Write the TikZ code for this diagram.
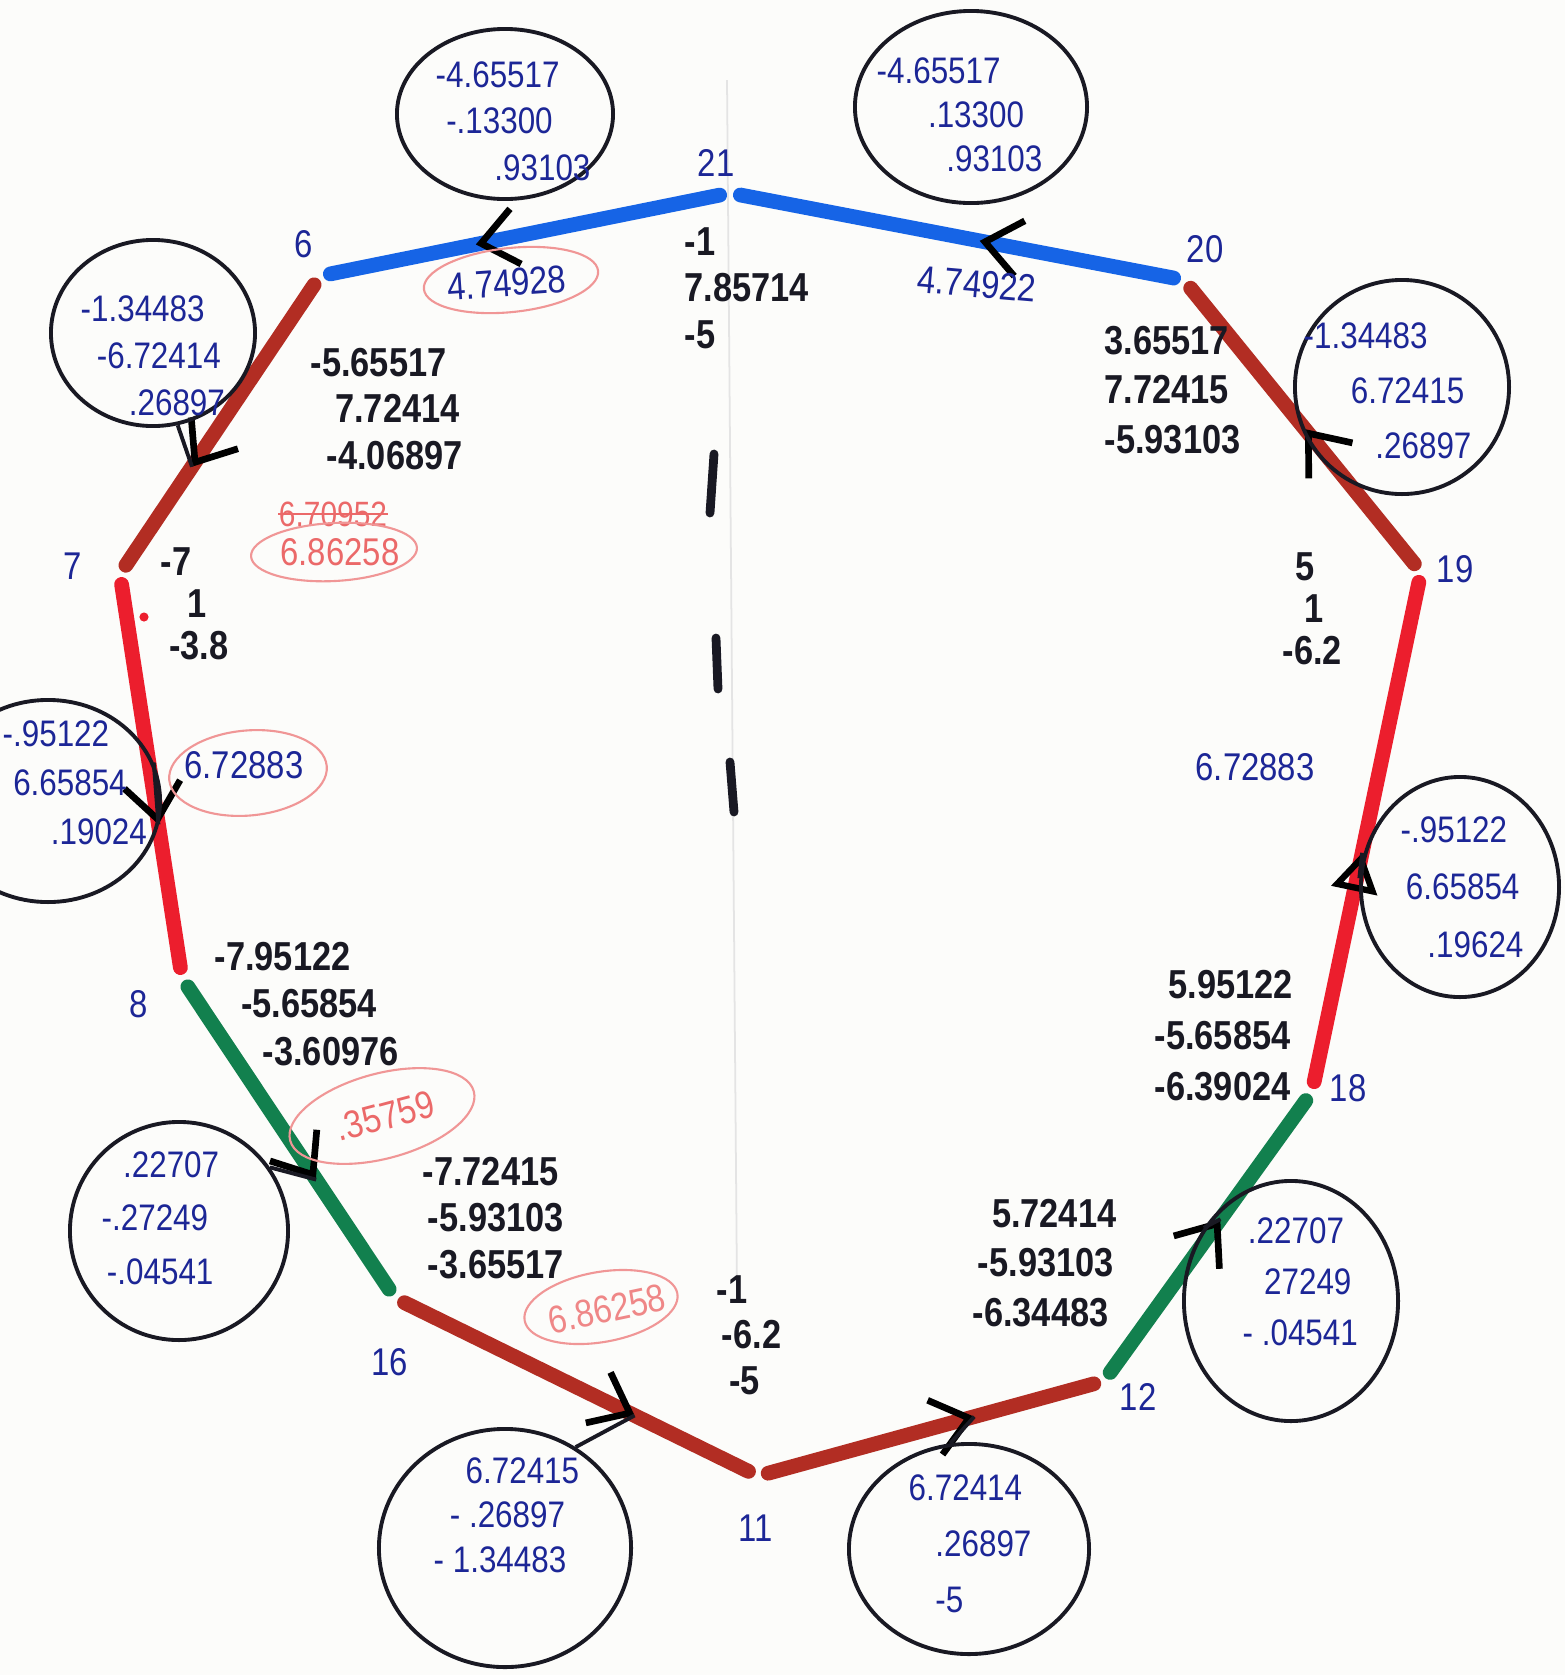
\documentclass[tikz,border=0pt]{standalone}
\usepackage{fontspec}
\setmainfont{Liberation Sans}[FakeStretch=0.85]
\usetikzlibrary{arrows.meta,decorations.markings,shapes.geometric,calc}
\definecolor{inkblue}{RGB}{28,38,150}
\definecolor{inkblack}{RGB}{25,25,35}
\definecolor{edgeblue}{RGB}{22,100,230}
\definecolor{edgebrown}{RGB}{178,45,35}
\definecolor{edgered}{RGB}{236,30,45}
\definecolor{edgegreen}{RGB}{18,128,78}
\definecolor{pinkline}{RGB}{240,150,150}
\definecolor{pinktext}{RGB}{235,105,105}
\definecolor{paper}{RGB}{252,252,250}
\definecolor{pencil}{RGB}{228,228,228}
\tikzset{
  bnum/.style={inner sep=0pt, align=left, text=inkblack, font=\fontsize{11.5}{#1}\selectfont\bfseries},
  unum/.style={inner sep=0pt, align=left, text=inkblue, font=\fontsize{10.5}{#1}\selectfont},
  vlab/.style={inner sep=0pt, text=inkblue, font=\fontsize{11}{13}\selectfont},
  elab/.style={inner sep=0pt, font=\fontsize{11}{13}\selectfont},
  seg/.style={line width=4.2pt, line cap=round, shorten <=3pt, shorten >=3pt},
  chev/.style={postaction={decorate, decoration={markings, mark=at position #1 with {\arrow{Straight Barb[color=black,length=10pt,width=16pt,line width=1.9pt]}}}}},
  tri/.style={postaction={decorate, decoration={markings, mark=at position #1 with {\arrow{Triangle[open,color=black,length=11pt,width=13pt,line width=1.8pt]}}}}},
  ring/.style={draw=inkblack, line width=1.1pt, ellipse, inner sep=0pt},
  pinkring/.style={draw=pinkline, line width=0.6pt, ellipse, inner sep=0pt},
  tail/.style={draw=inkblack, line width=1.1pt},
}
\begin{document}
\begin{tikzpicture}[x=0.01cm,y=-0.01cm]
\useasboundingbox (0,0) rectangle (1565,1675);
\fill[paper] (0,0) rectangle (1565,1675);
% faint pencil axis
\draw[pencil, line width=0.5pt] (727,80) -- (737,1290);

% vertices
\coordinate (v21) at (730,193);
\coordinate (v6) at (320,276);
\coordinate (v20) at (1184,280);
\coordinate (v7) at (120,574);
\coordinate (v19) at (1421,572);
\coordinate (v8) at (182,978);
\coordinate (v18) at (1312,1092);
\coordinate (v16) at (395,1298);
\coordinate (v11) at (758,1476);
\coordinate (v12) at (1104,1381);

% edges with direction marks
\draw[seg, edgeblue, chev=0.62] (v21) -- (v6);
\draw[seg, edgeblue, chev=0.45] (v20) -- (v21);
\draw[seg, edgebrown, chev=0.64] (v6) -- (v7);
\draw[seg, edgered, chev=0.62] (v7) -- (v8);
\draw[seg, edgegreen, chev=0.63] (v8) -- (v16);
\draw[seg, edgebrown, chev=0.66] (v16) -- (v11);
\draw[seg, edgebrown, chev=0.625] (v11) -- (v12);
\draw[seg, edgegreen, chev=0.56] (v12) -- (v18);
\draw[seg, edgered, tri=0.46] (v18) -- (v19);
\draw[seg, edgebrown, chev=0.49] (v19) -- (v20);

% mark positions
\coordinate (k67) at ($(v6)!0.64!(v7)$);
\coordinate (k78) at ($(v7)!0.62!(v8)$);
\coordinate (k816) at ($(v8)!0.63!(v16)$);
\coordinate (k1611) at ($(v16)!0.66!(v11)$);
\coordinate (k1112) at ($(v11)!0.625!(v12)$);
\coordinate (k1218) at ($(v12)!0.56!(v18)$);
\coordinate (k1819) at ($(v18)!0.46!(v19)$);

% vertex labels
\node[vlab] (l21) at (716,163) {21};
\node[vlab] (l6) at (304,244) {6};
\node[vlab] (l20) at (1205,249) {20};
\node[vlab] (l7) at (73,566) {7};
\node[vlab] (l19) at (1455,569) {19};
\node[vlab] (l8) at (139,1004) {8};
\node[vlab] (l18) at (1348,1088) {18};
\node[vlab] (l16) at (390,1362) {16};
\node[vlab] (l11) at (756,1528) {11};
\node[vlab] (l12) at (1138,1397) {12};

% black coordinate triplets
\node[bnum=13.2pt, anchor=west] (n21) at (684,288) {-1\\7.85714\\-5};
\node[bnum=13.2pt, anchor=west] (n6) at (310,409) {-5.65517\\\hspace*{7pt}7.72414\\\hspace*{4.6pt}-4.06897};
\node[bnum=14pt, anchor=west] (n20) at (1104,390) {3.65517\\7.72415\\-5.93103};
\node[bnum=11.9pt, anchor=west] (n7) at (160,604) {-7\\\hspace*{7.6pt}1\\\hspace*{2.4pt}-3.8};
\node[bnum=11.9pt, anchor=west] (n19) at (1282,609) {\hspace*{3.6pt}5\\\hspace*{6.1pt}1\\-6.2};
\node[bnum=13.4pt, anchor=west] (n8) at (214,1004) {-7.95122\\\hspace*{7.6pt}-5.65854\\\hspace*{13.7pt}-3.60976};
\node[bnum=14.5pt, anchor=west] (n18) at (1154,1036) {\hspace*{4pt}5.95122\\-5.65854\\-6.39024};
\node[bnum=13.2pt, anchor=west] (n16) at (422,1218) {-7.72415\\\hspace*{1.5pt}-5.93103\\\hspace*{1.5pt}-3.65517};
\node[bnum=12.9pt, anchor=west] (n11) at (716,1335) {-1\\\hspace*{1.5pt}-6.2\\\hspace*{3.6pt}-5};
\node[bnum=14.1pt, anchor=west] (n12) at (972,1263) {\hspace*{5.5pt}5.72414\\\hspace*{1.5pt}-5.93103\\-6.34483};

% black rings
\node[ring, minimum width=2.16cm, minimum height=1.70cm] (c1) at (505,114) {};
\node[ring, minimum width=2.32cm, minimum height=1.92cm] (c2) at (971,107) {};
\node[ring, minimum width=2.04cm, minimum height=1.86cm] (c3) at (153,333) {};
\node[ring, minimum width=2.14cm, minimum height=2.14cm] (c4) at (1402,387) {};
\node[ring, minimum width=2.24cm, minimum height=2.02cm] (c5) at (48,801) {};
\node[ring, minimum width=1.98cm, minimum height=2.20cm] (c6) at (1460,887) {};
\node[ring, minimum width=2.18cm, minimum height=2.18cm] (c7) at (179,1231) {};
\node[ring, minimum width=2.14cm, minimum height=2.40cm] (c8) at (1291,1301) {};
\node[ring, minimum width=2.52cm, minimum height=2.38cm] (c9) at (505,1548) {};
\node[ring, minimum width=2.40cm, minimum height=2.10cm] (c10) at (969,1549) {};

% blue triplets in rings
\node[unum=13.2pt, anchor=west] (t1) at (435,121) {-4.65517\\\hspace*{3pt}-.13300\\\hspace*{16.7pt}.93103};
\node[unum=12.5pt, anchor=west] (t2) at (876,115) {-4.65517\\\hspace*{14.6pt}.13300\\\hspace*{19.8pt}.93103};
\node[unum=13.4pt, anchor=west] (t3) at (80,356) {-1.34483\\\hspace*{4.6pt}-6.72414\\\hspace*{13.7pt}.26897};
\node[unum=15.7pt, anchor=west] (t4) at (1303,391) {-1.34483\\\hspace*{13.4pt}6.72415\\\hspace*{20.4pt}.26897};
\node[unum=14pt, anchor=west] (t5) at (2,783) {-.95122\\\hspace*{3pt}6.65854\\\hspace*{13.7pt}.19024};
\node[unum=16.3pt, anchor=west] (t6) at (1400,887) {-.95122\\\hspace*{1.5pt}6.65854\\\hspace*{7.6pt}.19624};
\node[unum=15.2pt, anchor=west] (t7) at (101,1218) {\hspace*{6.1pt}.22707\\-.27249\\\hspace*{1.5pt}-.04541};
\node[unum=14.5pt, anchor=west] (t8) at (1242,1282) {\hspace*{1.5pt}.22707\\\hspace*{6.1pt}27249\\- .04541};
\node[unum=12.6pt, anchor=west] (t9) at (433,1515) {\hspace*{9.1pt}6.72415\\\hspace*{4.6pt}- .26897\\- 1.34483};
\node[unum=16pt, anchor=west] (t10) at (908,1544) {6.72414\\\hspace*{7.6pt}.26897\\\hspace*{7.6pt}-5};

% tails from rings to direction marks
\draw[tail] (c3.-75) -- (k67);
\draw[tail] (c5.20) -- (k78);
\draw[tail] (c7.35) -- (k816);
\draw[tail] (c9.55) -- (k1611);
\draw[tail] (c10.100) -- (k1112);
\draw[tail] (c8.140) -- (k1218);
\draw[tail] (c6.175) -- (k1819);

% edge lengths
\node[elab, text=inkblue, rotate=4] (e216) at (507,283) {4.74928};
\node[pinkring, rotate=6, minimum width=1.75cm, minimum height=0.64cm] (r216) at (511,280) {};
\node[elab, text=inkblue, rotate=-5] (e2021) at (977,284) {4.74922};
\node[elab, text=pinktext, font=\fontsize{10}{12}\selectfont] (s67) at (333,514) {6.70952};
\draw[pinktext, line width=0.6pt] (s67.west) -- (s67.east);
\node[elab, text=pinktext] (e67) at (340,552) {6.86258};
\node[pinkring, rotate=3, minimum width=1.66cm, minimum height=0.58cm] (r67) at (334,552) {};
\node[elab, text=inkblue] (e78) at (244,765) {6.72883};
\node[pinkring, rotate=5, minimum width=1.58cm, minimum height=0.85cm] (r78) at (248,773) {};
\node[elab, text=inkblue] (e1918) at (1255,767) {6.72883};
\node[elab, text=pinktext, rotate=15] (e816) at (385,1116) {.35759};
\node[pinkring, rotate=15, minimum width=1.9cm, minimum height=0.85cm] (r816) at (382,1116) {};
\node[elab, text=pinktext!80!white, rotate=12] (e1611) at (607,1309) {6.86258};
\node[pinkring, rotate=10, minimum width=1.55cm, minimum height=0.7cm] (r1611) at (601,1307) {};

% centre tick marks and red dot
\draw[inkblack, line width=2.5pt, line cap=round] (714,454) -- (710,513);
\draw[inkblack, line width=2.5pt, line cap=round] (716,638) -- (718,689);
\draw[inkblack, line width=2.5pt, line cap=round] (730,762) -- (734,812);
\fill[edgered] (144,617) circle[radius=1.3pt];
\end{tikzpicture}
\end{document}
